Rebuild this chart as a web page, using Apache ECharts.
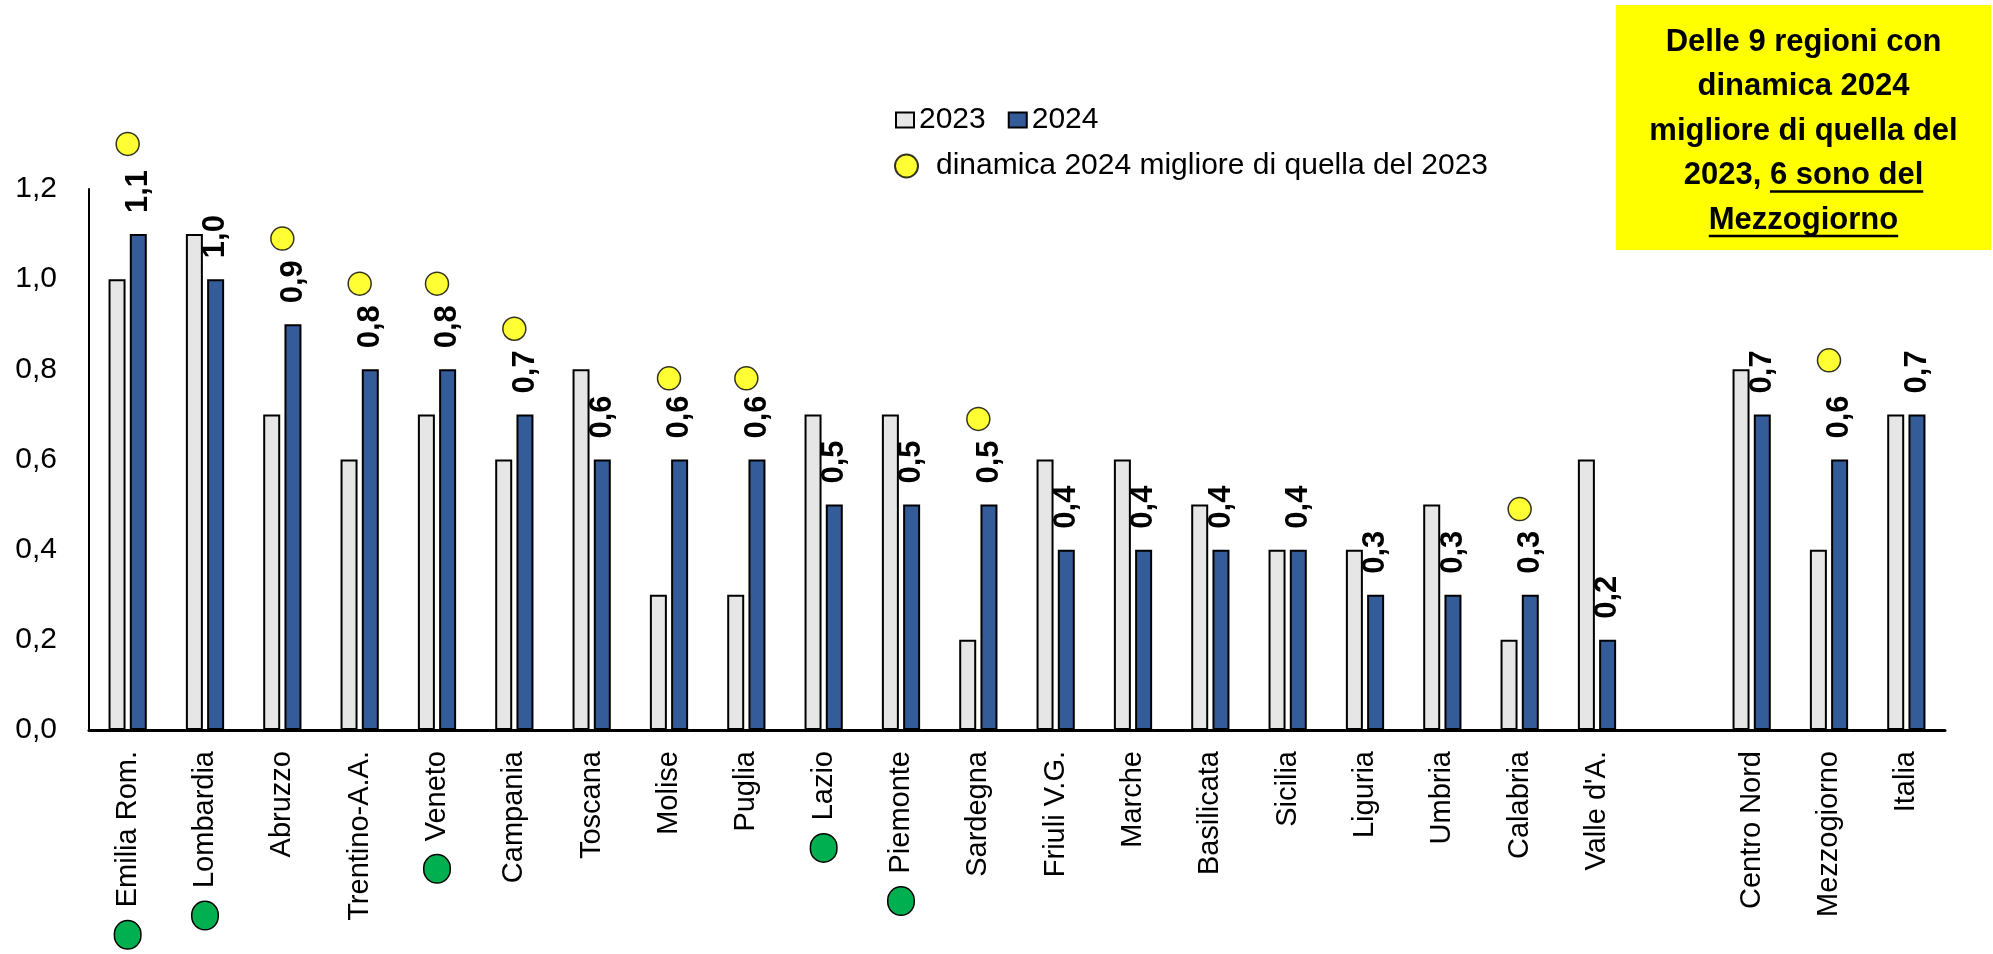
<!DOCTYPE html>
<head>
    <meta charset="utf-8">
    <title>ECharts</title>
    <style>
        html, body { margin: 0; padding: 0; background: #fff; }
    </style>
</head>
<body>
    <div id="main" style="width:1993px;height:954px"></div>
<script src="https://cdn.jsdelivr.net/npm/echarts@6/dist/echarts.min.js"></script>
<script type="text/javascript">

// dati
var categories = ['Emilia Rom.', 'Lombardia', 'Abruzzo', 'Trentino-A.A.', 'Veneto', 'Campania', 'Toscana',
    'Molise', 'Puglia', 'Lazio', 'Piemonte', 'Sardegna', 'Friuli V.G.', 'Marche', 'Basilicata', 'Sicilia',
    'Liguria', 'Umbria', 'Calabria', "Valle d'A.", '', 'Centro Nord', 'Mezzogiorno', 'Italia'];
var v2023 = [1.0, 1.1, 0.7, 0.6, 0.7, 0.6, 0.8, 0.3, 0.3, 0.7, 0.7, 0.2, 0.6, 0.6, 0.5, 0.4, 0.4, 0.5, 0.2, 0.6, '-', 0.8, 0.4, 0.7];
var v2024 = [1.1, 1.0, 0.9, 0.8, 0.8, 0.7, 0.6, 0.6, 0.6, 0.5, 0.5, 0.5, 0.4, 0.4, 0.4, 0.4, 0.3, 0.3, 0.3, 0.2, '-', 0.7, 0.6, 0.7];
// posizione dei pallini gialli (dinamica 2024 migliore)
var migliore = [1.30, '-', 1.09, 0.99, 0.99, 0.89, '-', 0.78, 0.78, '-', '-', 0.69, '-', '-', '-', '-', '-', '-', 0.49, '-', '-', '-', 0.82, '-'];
// regioni con pallino verde
var verdi = ['Emilia Rom.', 'Lombardia', 'Veneto', 'Lazio', 'Piemonte'];
var boxLines = ['Delle 9 regioni con', 'dinamica 2024', 'migliore di quella del', '2023, 6 sono del', 'Mezzogiorno'];
var boxUnderline = [null, null, null, '6 sono del', 'Mezzogiorno'];

var FONT = '"Liberation Sans Narrow", "Arial Narrow", "Liberation Sans", Arial, sans-serif';

function virgola(v) {
    return Number(v).toFixed(1).replace('.', ',');
}

var myChart = echarts.init(document.getElementById('main'));

// riquadro giallo
var boxX = 1616, boxY = 5, boxW = 375, boxH = 245;
var lineH = 44.5;
var boxFont = 'bold 31px ' + FONT;
var cnv = document.createElement('canvas').getContext('2d');
cnv.font = boxFont;
var graphics = [{
    type: 'rect',
    shape: { x: boxX, y: boxY, width: boxW, height: boxH },
    style: { fill: '#FFFF00' }
}];
var cx = boxX + boxW / 2;
var firstBase = 53;
boxLines.forEach(function (t, i) {
    var base = firstBase + i * lineH;
    graphics.push({
        type: 'text',
        x: cx, y: base - 11,
        style: { text: t, font: boxFont, fill: '#000', align: 'center', verticalAlign: 'middle' }
    });
    if (boxUnderline[i]) {
        var w = cnv.measureText(t).width;
        var pre = t.indexOf(boxUnderline[i]);
        var x0 = cx - w / 2 + cnv.measureText(t.slice(0, pre)).width;
        var x1 = x0 + cnv.measureText(boxUnderline[i]).width;
        graphics.push({
            type: 'line',
            shape: { x1: x0, y1: base + 5, x2: x1, y2: base + 5 },
            style: { stroke: '#000', lineWidth: 2.5 }
        });
    }
});

option = {
    animation: false,
    textStyle: { fontFamily: FONT },
    grid: { left: 89, right: 48, top: 189, bottom: 224, containLabel: false, outerBoundsMode: 'none' },
    legend: [
        {
            left: 890, top: 100,
            itemWidth: 18, itemHeight: 15, itemGap: 22,
            icon: 'rect',
            data: ['2023', '2024'],
            textStyle: { fontSize: 30, color: '#000', fontFamily: FONT }
        },
        {
            left: 889, top: 146,
            itemWidth: 23, itemHeight: 23,
            icon: 'circle',
            data: ['dinamica 2024 migliore di quella del 2023'],
            textStyle: { fontSize: 30, color: '#000', fontFamily: FONT, padding: [0, 0, 0, 13] }
        }
    ],
    xAxis: {
        type: 'category',
        data: categories,
        axisLine: { lineStyle: { color: '#000', width: 3 } },
        axisTick: { show: false },
        splitLine: { show: false },
        axisLabel: {
            interval: 0,
            rotate: 90,
            margin: 21,
            color: '#000',
            fontSize: 29,
            fontFamily: FONT,
            formatter: function (v) {
                return verdi.indexOf(v) >= 0 ? '{g|}{s|} ' + v : v;
            },
            rich: {
                g: {
                    width: 27, height: 25, borderRadius: 13,
                    backgroundColor: '#00B050', borderColor: '#000', borderWidth: 1.5,
                    verticalAlign: 'middle'
                },
                s: { width: 6 }
            }
        }
    },
    yAxis: {
        type: 'value',
        min: 0, max: 1.2, interval: 0.2,
        axisLine: { show: true, lineStyle: { color: '#000', width: 2 } },
        axisTick: { show: false },
        splitLine: { show: false },
        axisLabel: {
            margin: 32,
            color: '#000',
            fontSize: 30,
            fontFamily: FONT,
            formatter: virgola
        }
    },
    series: [
        {
            name: '2023',
            type: 'bar',
            data: v2023,
            barWidth: 17,
            barGap: '25%',
            itemStyle: { color: '#E6E6E6', borderColor: '#000', borderWidth: 2 },
            emphasis: { disabled: true }
        },
        {
            name: '2024',
            type: 'bar',
            data: v2024,
            barWidth: 17,
            barGap: '25%',
            itemStyle: { color: '#335C99', borderColor: '#000', borderWidth: 2 },
            label: {
                show: true,
                position: 'top',
                rotate: 90,
                align: 'left',
                verticalAlign: 'middle',
                distance: 21,
                fontSize: 31,
                fontWeight: 'bold',
                color: '#000',
                fontFamily: FONT,
                formatter: function (p) { return virgola(p.value); }
            },
            emphasis: { disabled: true }
        },
        {
            name: 'dinamica 2024 migliore di quella del 2023',
            type: 'scatter',
            data: migliore,
            symbol: 'circle',
            symbolSize: 23,
            clip: false,
            itemStyle: { color: '#FFFF00', borderColor: '#000', borderWidth: 1.5 },
            z: 5,
            emphasis: { disabled: true }
        }
    ],
    graphic: graphics
};

// per caricare i dati
myChart.setOption(option);

</script>
</body>
